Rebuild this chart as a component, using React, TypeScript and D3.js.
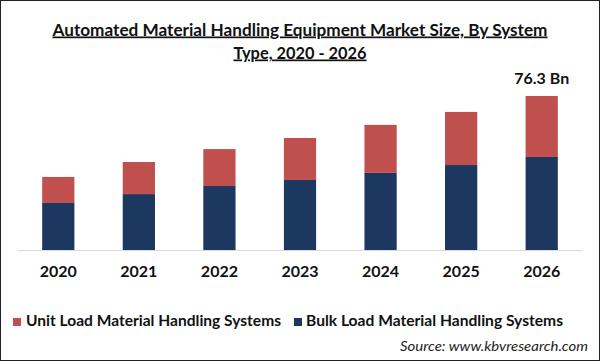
import React from "react";
import * as d3 from "d3";

const years = ["2020", "2021", "2022", "2023", "2024", "2025", "2026"];
const bulkLoad = [23.3, 27.7, 31.7, 34.7, 38.2, 42.1, 46.1];
const unitLoad = [12.9, 15.9, 18.3, 20.8, 23.8, 26.3, 30.2];
const seriesNames = ["Unit Load Material Handling Systems", "Bulk Load Material Handling Systems"];
const titleLines = [
  "Automated Material Handling Equipment Market Size, By System",
  "Type, 2020 - 2026",
];
const endLabel = "76.3 Bn";

const RED = "#C0504D";
const NAVY = "#1C3760";
const FONT = "Lato, 'Open Sans', sans-serif";

const App = () => {
  const width = 600;
  const height = 361;
  const baseY = 250;

  const rows = years.map((y, i) => ({ year: y, bulk: bulkLoad[i], unit: unitLoad[i] }));
  const stacked = d3.stack<any>().keys(["bulk", "unit"])(rows);

  const x = d3.scaleBand().domain(years).range([18, 582]).paddingInner(0.6).paddingOuter(0.3);
  const y = d3
    .scaleLinear()
    .domain([0, d3.max(rows, (d) => d.bulk + d.unit) as number])
    .range([baseY, 96]);

  const colors = { bulk: NAVY, unit: RED };
  const last = rows[rows.length - 1];

  return (
    <svg
      width={width}
      height={height}
      style={{ position: "absolute", left: 0, top: 0, background: "#fff" }}
      fontFamily={FONT}
    >
      <rect x={0.5} y={0.5} width={width - 1} height={height - 1} fill="#fff" stroke="#222" />

      {/* title */}
      <text x={300} y={35.5} textAnchor="middle" fontSize={17} fontWeight="bold" fill="#111"
        textDecoration="underline" textLength={495} lengthAdjust="spacingAndGlyphs">
        {titleLines[0]}
      </text>
      <text x={300} y={58.5} textAnchor="middle" fontSize={17} fontWeight="bold" fill="#111"
        textDecoration="underline" textLength={133} lengthAdjust="spacingAndGlyphs">
        {titleLines[1]}
      </text>

      {/* bars */}
      {stacked.map((layer) => (
        <g key={layer.key} fill={colors[layer.key as "bulk" | "unit"]}>
          {layer.map((d, i) => (
            <rect
              key={i}
              x={x(d.data.year)}
              y={y(d[1])}
              width={x.bandwidth()}
              height={y(d[0]) - y(d[1])}
            />
          ))}
        </g>
      ))}

      {/* axis line */}
      <line x1={18} x2={582} y1={baseY + 0.5} y2={baseY + 0.5} stroke="#D9D9D9" strokeWidth={1} />

      {/* year labels */}
      {years.map((yr) => (
        <text key={yr} x={(x(yr) as number) + x.bandwidth() / 2} y={277} textAnchor="middle"
          fontSize={16} fontWeight="bold" fill="#111">
          {yr}
        </text>
      ))}

      {/* total label */}
      <text x={(x(last.year) as number) + x.bandwidth() / 2} y={84} textAnchor="middle"
        fontSize={16} fontWeight="bold" fill="#111">
        {endLabel}
      </text>

      {/* legend */}
      <rect x={13} y={318} width={8} height={8} fill={RED} />
      <text x={26} y={326} fontSize={16} fontWeight="bold" fill="#111" textLength={255} lengthAdjust="spacingAndGlyphs">
        {seriesNames[0]}
      </text>
      <rect x={294} y={318} width={8} height={8} fill={NAVY} />
      <text x={306} y={326} fontSize={16} fontWeight="bold" fill="#111" textLength={257} lengthAdjust="spacingAndGlyphs">
        {seriesNames[1]}
      </text>

      {/* source */}
      <text x={400} y={350.5} fontSize={14} fontStyle="italic" fill="#222" textLength={188} lengthAdjust="spacingAndGlyphs">
        Source: www.kbvresearch.com
      </text>
    </svg>
  );
};

export default App;
